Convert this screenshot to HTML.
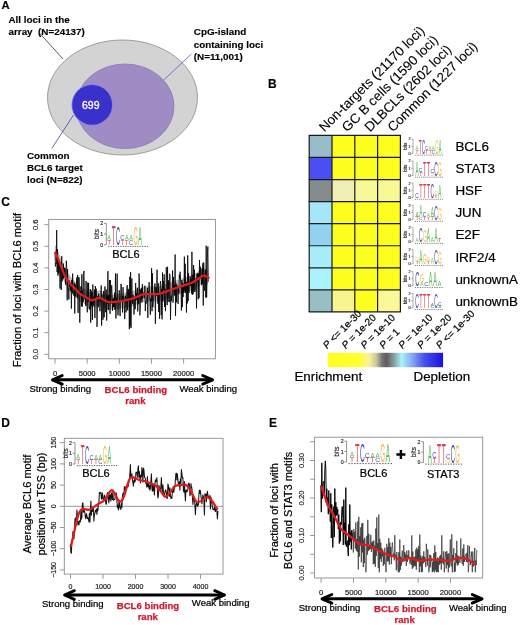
<!DOCTYPE html>
<html><head><meta charset="utf-8"><style>
body{margin:0;background:#fff;}
svg{display:block;filter:blur(0.3px);}
text{font-family:"Liberation Sans", sans-serif;}
.ax,.yl,.yl2,.ins,.rl,.en,.pl{stroke:#000;stroke-width:0.22px;}
.hd{stroke:#000;stroke-width:0.1px;}
.rd{stroke:#d01a30;stroke-width:0.25px;}
.bA,.lbl{stroke:#000;stroke-width:0.15px;}
.lbl{font-weight:bold;font-size:12px;}
.bA{font-weight:bold;font-size:9.85px;}
.w699{font-size:10.5px;fill:#fff;stroke:#fff;stroke-width:0.3px;}
.hd{font-size:13.4px;}
.rl{font-size:13.4px;}
.en{font-size:13.4px;}
.pl{font-size:10px;}
.yl{font-size:11.2px;}
.yl2{font-size:11.05px;}
.ins{font-size:11px;}
.ax{font-size:9.55px;}
.rd{font-size:9.65px;font-weight:bold;fill:#d01a30;}
</style></head>
<body><svg width="520" height="625" viewBox="0 0 520 625">
<text x="1.4" y="9.3" class="lbl" style="font-size:11.3px">A</text>
<text x="8.5" y="22.7" class="bA">All loci in the</text>
<text x="8.5" y="34.6" class="bA" xml:space="preserve">array  (N=24137)</text>
<line x1="39.5" y1="33" x2="63" y2="59" stroke="#333" stroke-width="0.8"/>
<ellipse cx="122.5" cy="97.5" rx="75" ry="57.5" fill="#d3d3d3" stroke="#8a8a8a" stroke-width="0.8"/>
<ellipse cx="125" cy="106.3" rx="49" ry="42.3" fill="#a08cc4" stroke="#8c7ab8" stroke-width="0.8"/>
<line x1="191.5" y1="54" x2="163.4" y2="80.3" stroke="#7766bb" stroke-width="0.9"/>
<circle cx="92.2" cy="104.8" r="20.7" fill="#8a80e6"/>
<circle cx="92.2" cy="104.8" r="19.9" fill="#3a30cc"/>
<text x="90.8" y="108.8" class="w699" text-anchor="middle">699</text>
<line x1="73.5" y1="115" x2="51.9" y2="148.3" stroke="#5a4fb5" stroke-width="0.9"/>
<text x="193.8" y="35.0" class="bA">CpG-island</text>
<text x="193.8" y="47.7" class="bA">containing loci</text>
<text x="193.8" y="59.6" class="bA">(N=11,001)</text>
<text x="26.9" y="158.8" class="bA">Common</text>
<text x="26.9" y="170.8" class="bA">BCL6 target</text>
<text x="26.9" y="182.5" class="bA">loci (N=822)</text>
<text x="268.1" y="87.9" class="lbl">B</text>
<rect x="309.20" y="135.40" width="22.80" height="22.07" fill="#98bcca"/>
<rect x="332.00" y="135.40" width="22.80" height="22.07" fill="#fefe1e"/>
<rect x="354.80" y="135.40" width="22.80" height="22.07" fill="#fefe1e"/>
<rect x="377.60" y="135.40" width="22.80" height="22.07" fill="#fefe1e"/>
<rect x="309.20" y="157.47" width="22.80" height="22.07" fill="#4a4ff4"/>
<rect x="332.00" y="157.47" width="22.80" height="22.07" fill="#fefe1e"/>
<rect x="354.80" y="157.47" width="22.80" height="22.07" fill="#fefe1e"/>
<rect x="377.60" y="157.47" width="22.80" height="22.07" fill="#fefe1e"/>
<rect x="309.20" y="179.54" width="22.80" height="22.07" fill="#838d8d"/>
<rect x="332.00" y="179.54" width="22.80" height="22.07" fill="#f0f0b4"/>
<rect x="354.80" y="179.54" width="22.80" height="22.07" fill="#f9f896"/>
<rect x="377.60" y="179.54" width="22.80" height="22.07" fill="#f9f896"/>
<rect x="309.20" y="201.61" width="22.80" height="22.07" fill="#a5e6fa"/>
<rect x="332.00" y="201.61" width="22.80" height="22.07" fill="#fefe1e"/>
<rect x="354.80" y="201.61" width="22.80" height="22.07" fill="#fefe1e"/>
<rect x="377.60" y="201.61" width="22.80" height="22.07" fill="#fefe1e"/>
<rect x="309.20" y="223.68" width="22.80" height="22.07" fill="#91d2f0"/>
<rect x="332.00" y="223.68" width="22.80" height="22.07" fill="#fefe1e"/>
<rect x="354.80" y="223.68" width="22.80" height="22.07" fill="#fefe1e"/>
<rect x="377.60" y="223.68" width="22.80" height="22.07" fill="#fefe1e"/>
<rect x="309.20" y="245.75" width="22.80" height="22.07" fill="#a8eefa"/>
<rect x="332.00" y="245.75" width="22.80" height="22.07" fill="#fefe1e"/>
<rect x="354.80" y="245.75" width="22.80" height="22.07" fill="#fefe1e"/>
<rect x="377.60" y="245.75" width="22.80" height="22.07" fill="#fefe1e"/>
<rect x="309.20" y="267.82" width="22.80" height="22.07" fill="#aaf2fb"/>
<rect x="332.00" y="267.82" width="22.80" height="22.07" fill="#fefe1e"/>
<rect x="354.80" y="267.82" width="22.80" height="22.07" fill="#fefe1e"/>
<rect x="377.60" y="267.82" width="22.80" height="22.07" fill="#fefe1e"/>
<rect x="309.20" y="289.89" width="22.80" height="22.07" fill="#98c0c4"/>
<rect x="332.00" y="289.89" width="22.80" height="22.07" fill="#f8f490"/>
<rect x="354.80" y="289.89" width="22.80" height="22.07" fill="#fefe20"/>
<rect x="377.60" y="289.89" width="22.80" height="22.07" fill="#faf898"/>
<line x1="309.20" y1="135.40" x2="309.20" y2="311.96" stroke="#1a1a1a" stroke-width="1.2"/>
<line x1="332.00" y1="135.40" x2="332.00" y2="311.96" stroke="#1a1a1a" stroke-width="1.2"/>
<line x1="354.80" y1="135.40" x2="354.80" y2="311.96" stroke="#1a1a1a" stroke-width="1.2"/>
<line x1="377.60" y1="135.40" x2="377.60" y2="311.96" stroke="#1a1a1a" stroke-width="1.2"/>
<line x1="400.40" y1="135.40" x2="400.40" y2="311.96" stroke="#1a1a1a" stroke-width="1.2"/>
<line x1="308.70" y1="135.40" x2="400.90" y2="135.40" stroke="#1a1a1a" stroke-width="1.2"/>
<line x1="308.70" y1="157.47" x2="400.90" y2="157.47" stroke="#1a1a1a" stroke-width="1.2"/>
<line x1="308.70" y1="179.54" x2="400.90" y2="179.54" stroke="#1a1a1a" stroke-width="1.2"/>
<line x1="308.70" y1="201.61" x2="400.90" y2="201.61" stroke="#1a1a1a" stroke-width="1.2"/>
<line x1="308.70" y1="223.68" x2="400.90" y2="223.68" stroke="#1a1a1a" stroke-width="1.2"/>
<line x1="308.70" y1="245.75" x2="400.90" y2="245.75" stroke="#1a1a1a" stroke-width="1.2"/>
<line x1="308.70" y1="267.82" x2="400.90" y2="267.82" stroke="#1a1a1a" stroke-width="1.2"/>
<line x1="308.70" y1="289.89" x2="400.90" y2="289.89" stroke="#1a1a1a" stroke-width="1.2"/>
<line x1="308.70" y1="311.96" x2="400.90" y2="311.96" stroke="#1a1a1a" stroke-width="1.2"/>
<text transform="translate(324.50,132.50) rotate(-45)" class="hd">Non-targets (21170 loci)</text>
<text transform="translate(347.30,132.50) rotate(-45)" class="hd">GC B cells (1590 loci)</text>
<text transform="translate(370.10,132.50) rotate(-45)" class="hd">DLBCLs (2602 loci)</text>
<text transform="translate(392.90,132.50) rotate(-45)" class="hd">Common (1227 loci)</text>
<path d="M411.40,139.00H413.00V153.50H411.40M411.40,146.25H413.00" stroke="#666" stroke-width="0.55" fill="none"/><text x="410.70" y="154.87" font-size="3.8" text-anchor="end" fill="#222" stroke="#222" stroke-width="0.15">0</text><text x="410.70" y="147.62" font-size="3.8" text-anchor="end" fill="#222" stroke="#222" stroke-width="0.15">1</text><text x="410.70" y="140.37" font-size="3.8" text-anchor="end" fill="#222" stroke="#222" stroke-width="0.15">2</text><text transform="translate(407.43,146.25) rotate(-90)" font-size="4.56" text-anchor="middle" fill="#222" stroke="#222" stroke-width="0.15">bits</text><text transform="translate(415.38,153.50) scale(0.481,0.520)" font-size="10" fill="#cc2233" fill-opacity="0.88">T</text><text transform="translate(415.48,149.91) scale(0.412,0.578)" font-size="10" fill="#3cb040" fill-opacity="0.88">A</text><text transform="translate(418.69,153.50) scale(0.481,2.000)" font-size="10" fill="#cc2233" fill-opacity="0.88">T</text><text transform="translate(421.91,153.50) scale(0.431,1.971)" font-size="10" fill="#2a2a9a" fill-opacity="0.88">C</text><text transform="translate(425.32,153.50) scale(0.481,0.485)" font-size="10" fill="#cc2233" fill-opacity="0.88">T</text><text transform="translate(425.22,150.15) scale(0.431,0.513)" font-size="10" fill="#2a2a9a" fill-opacity="0.88">C</text><text transform="translate(428.63,153.50) scale(0.481,0.485)" font-size="10" fill="#cc2233" fill-opacity="0.88">T</text><text transform="translate(428.73,150.15) scale(0.412,0.520)" font-size="10" fill="#3cb040" fill-opacity="0.88">A</text><text transform="translate(431.85,153.50) scale(0.431,0.479)" font-size="10" fill="#2a2a9a" fill-opacity="0.88">C</text><text transform="translate(432.04,150.15) scale(0.412,0.520)" font-size="10" fill="#3cb040" fill-opacity="0.88">A</text><text transform="translate(435.17,153.50) scale(0.415,1.937)" font-size="10" fill="#f0b030" fill-opacity="0.88">G</text><text transform="translate(438.67,153.50) scale(0.412,1.965)" font-size="10" fill="#3cb040" fill-opacity="0.88">A</text><path d="M414.80,155.10h0.99M416.62,155.10h0.99M418.44,155.10h0.99M420.27,155.10h0.99M422.09,155.10h0.99M423.91,155.10h0.99M425.73,155.10h0.99M427.55,155.10h0.99M429.37,155.10h0.99M431.20,155.10h0.99M433.02,155.10h0.99M434.84,155.10h0.99M436.66,155.10h0.99M438.48,155.10h0.99M440.31,155.10h0.99M442.13,155.10h0.99" stroke="#555" stroke-width="0.72"/>
<path d="M411.40,161.07H413.00V175.57H411.40M411.40,168.32H413.00" stroke="#666" stroke-width="0.55" fill="none"/><text x="410.70" y="176.94" font-size="3.8" text-anchor="end" fill="#222" stroke="#222" stroke-width="0.15">0</text><text x="410.70" y="169.69" font-size="3.8" text-anchor="end" fill="#222" stroke="#222" stroke-width="0.15">1</text><text x="410.70" y="162.44" font-size="3.8" text-anchor="end" fill="#222" stroke="#222" stroke-width="0.15">2</text><text transform="translate(407.43,168.32) rotate(-90)" font-size="4.56" text-anchor="middle" fill="#222" stroke="#222" stroke-width="0.15">bits</text><text transform="translate(415.52,175.57) scale(0.470,2.023)" font-size="10" fill="#3cb040" fill-opacity="0.88">A</text><text transform="translate(419.19,175.57) scale(0.549,0.520)" font-size="10" fill="#cc2233" fill-opacity="0.88">T</text><text transform="translate(419.08,171.98) scale(0.493,0.627)" font-size="10" fill="#2a2a9a" fill-opacity="0.88">C</text><text transform="translate(422.97,175.57) scale(0.549,2.080)" font-size="10" fill="#cc2233" fill-opacity="0.88">T</text><text transform="translate(426.76,175.57) scale(0.549,2.080)" font-size="10" fill="#cc2233" fill-opacity="0.88">T</text><text transform="translate(430.45,175.57) scale(0.474,0.342)" font-size="10" fill="#f0b030" fill-opacity="0.88">G</text><text transform="translate(430.44,173.18) scale(0.493,0.570)" font-size="10" fill="#2a2a9a" fill-opacity="0.88">C</text><text transform="translate(434.22,175.57) scale(0.493,1.937)" font-size="10" fill="#2a2a9a" fill-opacity="0.88">C</text><text transform="translate(438.02,175.57) scale(0.474,1.937)" font-size="10" fill="#f0b030" fill-opacity="0.88">G</text><path d="M414.80,177.17h1.14M416.88,177.17h1.14M418.96,177.17h1.14M421.05,177.17h1.14M423.13,177.17h1.14M425.21,177.17h1.14M427.29,177.17h1.14M429.38,177.17h1.14M431.46,177.17h1.14M433.54,177.17h1.14M435.62,177.17h1.14M437.70,177.17h1.14M439.79,177.17h1.14M441.87,177.17h1.14" stroke="#555" stroke-width="0.72"/>
<path d="M411.40,183.14H413.00V197.64H411.40M411.40,190.39H413.00" stroke="#666" stroke-width="0.55" fill="none"/><text x="410.70" y="199.01" font-size="3.8" text-anchor="end" fill="#222" stroke="#222" stroke-width="0.15">0</text><text x="410.70" y="191.76" font-size="3.8" text-anchor="end" fill="#222" stroke="#222" stroke-width="0.15">1</text><text x="410.70" y="184.51" font-size="3.8" text-anchor="end" fill="#222" stroke="#222" stroke-width="0.15">2</text><text transform="translate(407.43,190.39) rotate(-90)" font-size="4.56" text-anchor="middle" fill="#222" stroke="#222" stroke-width="0.15">bits</text><text transform="translate(415.29,197.64) scale(0.493,0.684)" font-size="10" fill="#2a2a9a" fill-opacity="0.88">C</text><text transform="translate(419.19,197.64) scale(0.549,2.080)" font-size="10" fill="#cc2233" fill-opacity="0.88">T</text><text transform="translate(422.97,197.64) scale(0.549,2.080)" font-size="10" fill="#cc2233" fill-opacity="0.88">T</text><text transform="translate(426.76,197.64) scale(0.549,2.080)" font-size="10" fill="#cc2233" fill-opacity="0.88">T</text><text transform="translate(430.44,197.64) scale(0.493,1.937)" font-size="10" fill="#2a2a9a" fill-opacity="0.88">C</text><text transform="translate(434.33,197.64) scale(0.549,0.347)" font-size="10" fill="#cc2233" fill-opacity="0.88">T</text><text transform="translate(434.23,195.25) scale(0.474,0.456)" font-size="10" fill="#f0b030" fill-opacity="0.88">G</text><text transform="translate(438.23,197.64) scale(0.470,1.849)" font-size="10" fill="#3cb040" fill-opacity="0.88">A</text><path d="M414.80,199.24h1.14M416.88,199.24h1.14M418.96,199.24h1.14M421.05,199.24h1.14M423.13,199.24h1.14M425.21,199.24h1.14M427.29,199.24h1.14M429.38,199.24h1.14M431.46,199.24h1.14M433.54,199.24h1.14M435.62,199.24h1.14M437.70,199.24h1.14M439.79,199.24h1.14M441.87,199.24h1.14" stroke="#555" stroke-width="0.72"/>
<path d="M411.40,205.21H413.00V219.71H411.40M411.40,212.46H413.00" stroke="#666" stroke-width="0.55" fill="none"/><text x="410.70" y="221.08" font-size="3.8" text-anchor="end" fill="#222" stroke="#222" stroke-width="0.15">0</text><text x="410.70" y="213.83" font-size="3.8" text-anchor="end" fill="#222" stroke="#222" stroke-width="0.15">1</text><text x="410.70" y="206.58" font-size="3.8" text-anchor="end" fill="#222" stroke="#222" stroke-width="0.15">2</text><text transform="translate(407.43,212.46) rotate(-90)" font-size="4.56" text-anchor="middle" fill="#222" stroke="#222" stroke-width="0.15">bits</text><text transform="translate(415.40,219.71) scale(0.549,0.462)" font-size="10" fill="#cc2233" fill-opacity="0.88">T</text><text transform="translate(415.52,216.52) scale(0.470,0.693)" font-size="10" fill="#3cb040" fill-opacity="0.88">A</text><text transform="translate(419.08,219.71) scale(0.493,0.342)" font-size="10" fill="#2a2a9a" fill-opacity="0.88">C</text><text transform="translate(419.30,217.32) scale(0.470,1.734)" font-size="10" fill="#3cb040" fill-opacity="0.88">A</text><text transform="translate(422.97,219.71) scale(0.549,0.347)" font-size="10" fill="#cc2233" fill-opacity="0.88">T</text><text transform="translate(422.87,217.32) scale(0.493,0.684)" font-size="10" fill="#2a2a9a" fill-opacity="0.88">C</text><text transform="translate(426.76,219.71) scale(0.549,0.347)" font-size="10" fill="#cc2233" fill-opacity="0.88">T</text><text transform="translate(426.87,217.32) scale(0.470,0.578)" font-size="10" fill="#3cb040" fill-opacity="0.88">A</text><text transform="translate(430.55,219.71) scale(0.549,0.462)" font-size="10" fill="#cc2233" fill-opacity="0.88">T</text><text transform="translate(430.66,216.52) scale(0.470,1.387)" font-size="10" fill="#3cb040" fill-opacity="0.88">A</text><text transform="translate(434.22,219.71) scale(0.493,1.937)" font-size="10" fill="#2a2a9a" fill-opacity="0.88">C</text><text transform="translate(438.02,219.71) scale(0.474,1.709)" font-size="10" fill="#f0b030" fill-opacity="0.88">G</text><path d="M414.80,221.31h1.14M416.88,221.31h1.14M418.96,221.31h1.14M421.05,221.31h1.14M423.13,221.31h1.14M425.21,221.31h1.14M427.29,221.31h1.14M429.38,221.31h1.14M431.46,221.31h1.14M433.54,221.31h1.14M435.62,221.31h1.14M437.70,221.31h1.14M439.79,221.31h1.14M441.87,221.31h1.14" stroke="#555" stroke-width="0.72"/>
<path d="M411.40,227.28H413.00V241.78H411.40M411.40,234.53H413.00" stroke="#666" stroke-width="0.55" fill="none"/><text x="410.70" y="243.15" font-size="3.8" text-anchor="end" fill="#222" stroke="#222" stroke-width="0.15">0</text><text x="410.70" y="235.90" font-size="3.8" text-anchor="end" fill="#222" stroke="#222" stroke-width="0.15">1</text><text x="410.70" y="228.65" font-size="3.8" text-anchor="end" fill="#222" stroke="#222" stroke-width="0.15">2</text><text transform="translate(407.43,234.53) rotate(-90)" font-size="4.56" text-anchor="middle" fill="#222" stroke="#222" stroke-width="0.15">bits</text><text transform="translate(415.52,241.78) scale(0.470,0.578)" font-size="10" fill="#3cb040" fill-opacity="0.88">A</text><text transform="translate(419.08,241.78) scale(0.493,1.937)" font-size="10" fill="#2a2a9a" fill-opacity="0.88">C</text><text transform="translate(422.88,241.78) scale(0.474,1.709)" font-size="10" fill="#f0b030" fill-opacity="0.88">G</text><text transform="translate(426.87,241.78) scale(0.470,2.080)" font-size="10" fill="#3cb040" fill-opacity="0.88">A</text><text transform="translate(430.66,241.78) scale(0.470,0.693)" font-size="10" fill="#3cb040" fill-opacity="0.88">A</text><text transform="translate(434.45,241.78) scale(0.470,1.965)" font-size="10" fill="#3cb040" fill-opacity="0.88">A</text><text transform="translate(438.12,241.78) scale(0.549,0.578)" font-size="10" fill="#cc2233" fill-opacity="0.88">T</text><path d="M414.80,243.38h1.14M416.88,243.38h1.14M418.96,243.38h1.14M421.05,243.38h1.14M423.13,243.38h1.14M425.21,243.38h1.14M427.29,243.38h1.14M429.38,243.38h1.14M431.46,243.38h1.14M433.54,243.38h1.14M435.62,243.38h1.14M437.70,243.38h1.14M439.79,243.38h1.14M441.87,243.38h1.14" stroke="#555" stroke-width="0.72"/>
<path d="M411.40,249.35H413.00V263.85H411.40M411.40,256.60H413.00" stroke="#666" stroke-width="0.55" fill="none"/><text x="410.70" y="265.22" font-size="3.8" text-anchor="end" fill="#222" stroke="#222" stroke-width="0.15">0</text><text x="410.70" y="257.97" font-size="3.8" text-anchor="end" fill="#222" stroke="#222" stroke-width="0.15">1</text><text x="410.70" y="250.72" font-size="3.8" text-anchor="end" fill="#222" stroke="#222" stroke-width="0.15">2</text><text transform="translate(407.43,256.60) rotate(-90)" font-size="4.56" text-anchor="middle" fill="#222" stroke="#222" stroke-width="0.15">bits</text><text transform="translate(415.40,263.85) scale(0.549,0.347)" font-size="10" fill="#cc2233" fill-opacity="0.88">T</text><text transform="translate(415.30,261.46) scale(0.474,0.570)" font-size="10" fill="#f0b030" fill-opacity="0.88">G</text><text transform="translate(419.30,263.85) scale(0.470,1.965)" font-size="10" fill="#3cb040" fill-opacity="0.88">A</text><text transform="translate(422.88,263.85) scale(0.474,1.481)" font-size="10" fill="#f0b030" fill-opacity="0.88">G</text><text transform="translate(426.76,263.85) scale(0.549,0.347)" font-size="10" fill="#cc2233" fill-opacity="0.88">T</text><text transform="translate(426.66,261.46) scale(0.474,0.570)" font-size="10" fill="#f0b030" fill-opacity="0.88">G</text><text transform="translate(430.66,263.85) scale(0.470,0.925)" font-size="10" fill="#3cb040" fill-opacity="0.88">A</text><text transform="translate(434.22,263.85) scale(0.493,1.937)" font-size="10" fill="#2a2a9a" fill-opacity="0.88">C</text><text transform="translate(438.02,263.85) scale(0.474,1.709)" font-size="10" fill="#f0b030" fill-opacity="0.88">G</text><path d="M414.80,265.45h1.14M416.88,265.45h1.14M418.96,265.45h1.14M421.05,265.45h1.14M423.13,265.45h1.14M425.21,265.45h1.14M427.29,265.45h1.14M429.38,265.45h1.14M431.46,265.45h1.14M433.54,265.45h1.14M435.62,265.45h1.14M437.70,265.45h1.14M439.79,265.45h1.14M441.87,265.45h1.14" stroke="#555" stroke-width="0.72"/>
<path d="M411.40,271.42H413.00V285.92H411.40M411.40,278.67H413.00" stroke="#666" stroke-width="0.55" fill="none"/><text x="410.70" y="287.29" font-size="3.8" text-anchor="end" fill="#222" stroke="#222" stroke-width="0.15">0</text><text x="410.70" y="280.04" font-size="3.8" text-anchor="end" fill="#222" stroke="#222" stroke-width="0.15">1</text><text x="410.70" y="272.79" font-size="3.8" text-anchor="end" fill="#222" stroke="#222" stroke-width="0.15">2</text><text transform="translate(407.43,278.67) rotate(-90)" font-size="4.56" text-anchor="middle" fill="#222" stroke="#222" stroke-width="0.15">bits</text><text transform="translate(415.31,285.92) scale(0.575,2.051)" font-size="10" fill="#2a2a9a" fill-opacity="0.88">C</text><text transform="translate(419.99,285.92) scale(0.549,0.578)" font-size="10" fill="#3cb040" fill-opacity="0.88">A</text><text transform="translate(419.74,281.93) scale(0.553,1.025)" font-size="10" fill="#f0b030" fill-opacity="0.88">G</text><text transform="translate(424.14,285.92) scale(0.575,0.570)" font-size="10" fill="#2a2a9a" fill-opacity="0.88">C</text><text transform="translate(428.82,285.92) scale(0.549,1.965)" font-size="10" fill="#3cb040" fill-opacity="0.88">A</text><text transform="translate(433.24,285.92) scale(0.549,1.965)" font-size="10" fill="#3cb040" fill-opacity="0.88">A</text><text transform="translate(437.65,285.92) scale(0.549,0.809)" font-size="10" fill="#3cb040" fill-opacity="0.88">A</text><path d="M414.80,287.52h1.32M417.23,287.52h1.32M419.66,287.52h1.32M422.09,287.52h1.32M424.52,287.52h1.32M426.95,287.52h1.32M429.38,287.52h1.32M431.80,287.52h1.32M434.23,287.52h1.32M436.66,287.52h1.32M439.09,287.52h1.32M441.52,287.52h1.32" stroke="#555" stroke-width="0.72"/>
<path d="M411.40,293.49H413.00V307.99H411.40M411.40,300.74H413.00" stroke="#666" stroke-width="0.55" fill="none"/><text x="410.70" y="309.36" font-size="3.8" text-anchor="end" fill="#222" stroke="#222" stroke-width="0.15">0</text><text x="410.70" y="302.11" font-size="3.8" text-anchor="end" fill="#222" stroke="#222" stroke-width="0.15">1</text><text x="410.70" y="294.86" font-size="3.8" text-anchor="end" fill="#222" stroke="#222" stroke-width="0.15">2</text><text transform="translate(407.43,300.74) rotate(-90)" font-size="4.56" text-anchor="middle" fill="#222" stroke="#222" stroke-width="0.15">bits</text><text transform="translate(415.29,307.99) scale(0.493,2.051)" font-size="10" fill="#2a2a9a" fill-opacity="0.88">C</text><text transform="translate(419.19,307.99) scale(0.549,2.080)" font-size="10" fill="#cc2233" fill-opacity="0.88">T</text><text transform="translate(422.97,307.99) scale(0.549,2.080)" font-size="10" fill="#cc2233" fill-opacity="0.88">T</text><text transform="translate(426.76,307.99) scale(0.549,2.080)" font-size="10" fill="#cc2233" fill-opacity="0.88">T</text><text transform="translate(430.44,307.99) scale(0.493,0.342)" font-size="10" fill="#2a2a9a" fill-opacity="0.88">C</text><text transform="translate(430.66,305.60) scale(0.470,0.347)" font-size="10" fill="#3cb040" fill-opacity="0.88">A</text><text transform="translate(434.22,307.99) scale(0.493,1.937)" font-size="10" fill="#2a2a9a" fill-opacity="0.88">C</text><text transform="translate(438.23,307.99) scale(0.470,0.347)" font-size="10" fill="#3cb040" fill-opacity="0.88">A</text><text transform="translate(438.01,305.60) scale(0.493,0.570)" font-size="10" fill="#2a2a9a" fill-opacity="0.88">C</text><path d="M414.80,309.59h1.14M416.88,309.59h1.14M418.96,309.59h1.14M421.05,309.59h1.14M423.13,309.59h1.14M425.21,309.59h1.14M427.29,309.59h1.14M429.38,309.59h1.14M431.46,309.59h1.14M433.54,309.59h1.14M435.62,309.59h1.14M437.70,309.59h1.14M439.79,309.59h1.14M441.87,309.59h1.14" stroke="#555" stroke-width="0.72"/>
<text x="455.4" y="151.20" class="rl">BCL6</text>
<text x="455.4" y="173.27" class="rl">STAT3</text>
<text x="455.4" y="195.34" class="rl">HSF</text>
<text x="455.4" y="217.41" class="rl">JUN</text>
<text x="455.4" y="239.48" class="rl">E2F</text>
<text x="455.4" y="261.55" class="rl">IRF2/4</text>
<text x="455.4" y="283.62" class="rl">unknownA</text>
<text x="455.4" y="305.69" class="rl">unknownB</text>
<defs><linearGradient id="cb" x1="0" x2="1" y1="0" y2="0"><stop offset="0" stop-color="#ffff22"/><stop offset="0.27" stop-color="#ffff30"/><stop offset="0.36" stop-color="#f6f2a0"/><stop offset="0.42" stop-color="#c8c89a"/><stop offset="0.47" stop-color="#747474"/><stop offset="0.51" stop-color="#5c5c5c"/><stop offset="0.57" stop-color="#889a9a"/><stop offset="0.64" stop-color="#a8f4fa"/><stop offset="0.74" stop-color="#7f9ff2"/><stop offset="0.84" stop-color="#4450ee"/><stop offset="1" stop-color="#1a10e0"/></linearGradient></defs>
<rect x="327.9" y="352.8" width="115.2" height="14.4" fill="url(#cb)"/>
<text x="294.4" y="380.9" class="en">Enrichment</text>
<text x="413.5" y="380.9" class="en">Depletion</text>
<text transform="translate(327.00,349.30) rotate(-45)" class="pl"><tspan font-style="italic">P</tspan> &lt;= 1e-30</text>
<text transform="translate(345.85,349.30) rotate(-45)" class="pl"><tspan font-style="italic">P</tspan> = 1e-20</text>
<text transform="translate(364.70,349.30) rotate(-45)" class="pl"><tspan font-style="italic">P</tspan> = 1e-10</text>
<text transform="translate(383.55,349.30) rotate(-45)" class="pl"><tspan font-style="italic">P</tspan> = 1</text>
<text transform="translate(402.40,349.30) rotate(-45)" class="pl"><tspan font-style="italic">P</tspan> = 1e-10</text>
<text transform="translate(421.25,349.30) rotate(-45)" class="pl"><tspan font-style="italic">P</tspan> = 1e-20</text>
<text transform="translate(440.10,349.30) rotate(-45)" class="pl"><tspan font-style="italic">P</tspan> &lt;= 1e-30</text>
<text x="1.2" y="205.6" class="lbl">C</text>
<rect x="48.75" y="219.40" width="166.65" height="139.40" fill="none" stroke="#8c8c8c" stroke-width="0.9"/><path d="M44.25,354.30H48.75M44.25,332.70H48.75M44.25,311.10H48.75M44.25,289.50H48.75M44.25,267.90H48.75M44.25,246.30H48.75M44.25,224.70H48.75M55.00,358.80V363.60M87.15,358.80V363.60M119.30,358.80V363.60M151.45,358.80V363.60M183.60,358.80V363.60" stroke="#8c8c8c" stroke-width="0.9"/><text transform="translate(38.00,354.30) rotate(-90)" font-size="7.6" text-anchor="middle" fill="#222" stroke="#222" stroke-width="0.2">0.0</text><text transform="translate(38.00,332.70) rotate(-90)" font-size="7.6" text-anchor="middle" fill="#222" stroke="#222" stroke-width="0.2">0.1</text><text transform="translate(38.00,311.10) rotate(-90)" font-size="7.6" text-anchor="middle" fill="#222" stroke="#222" stroke-width="0.2">0.2</text><text transform="translate(38.00,289.50) rotate(-90)" font-size="7.6" text-anchor="middle" fill="#222" stroke="#222" stroke-width="0.2">0.3</text><text transform="translate(38.00,267.90) rotate(-90)" font-size="7.6" text-anchor="middle" fill="#222" stroke="#222" stroke-width="0.2">0.4</text><text transform="translate(38.00,246.30) rotate(-90)" font-size="7.6" text-anchor="middle" fill="#222" stroke="#222" stroke-width="0.2">0.5</text><text transform="translate(38.00,224.70) rotate(-90)" font-size="7.6" text-anchor="middle" fill="#222" stroke="#222" stroke-width="0.2">0.6</text><text x="55.00" y="375.80" font-size="7.6" text-anchor="middle" fill="#222" stroke="#222" stroke-width="0.2">0</text><text x="87.15" y="375.80" font-size="7.6" text-anchor="middle" fill="#222" stroke="#222" stroke-width="0.2">5000</text><text x="119.30" y="375.80" font-size="7.6" text-anchor="middle" fill="#222" stroke="#222" stroke-width="0.2">10000</text><text x="151.45" y="375.80" font-size="7.6" text-anchor="middle" fill="#222" stroke="#222" stroke-width="0.2">15000</text><text x="183.60" y="375.80" font-size="7.6" text-anchor="middle" fill="#222" stroke="#222" stroke-width="0.2">20000</text>
<text transform="translate(21.3,290.1) rotate(-90)" class="yl" text-anchor="middle">Fraction of loci with BCL6 motif</text>
<polygon points="55.00,259.75 56.00,261.57 57.00,263.84 58.00,266.26 59.00,268.71 60.00,271.21 61.00,273.75 62.00,276.32 63.00,278.89 64.00,281.34 65.00,283.53 66.00,285.34 67.00,286.87 68.00,288.29 69.00,289.67 70.00,290.98 71.00,292.18 72.00,293.26 73.00,294.29 74.00,295.30 75.00,296.32 76.00,297.33 77.00,298.34 78.00,299.34 79.00,300.31 80.00,301.18 81.00,301.91 82.00,302.55 83.00,303.15 84.00,303.74 85.00,304.33 86.00,304.92 87.00,305.52 88.00,306.11 89.00,306.69 90.00,307.25 91.00,307.67 92.00,307.83 93.00,307.67 94.00,307.34 95.00,306.94 96.00,306.53 97.00,306.12 98.00,305.76 99.00,305.53 100.00,305.57 101.00,305.90 102.00,306.40 103.00,306.95 104.00,307.51 105.00,308.07 106.00,308.62 107.00,309.14 108.00,309.56 109.00,309.80 110.00,309.84 111.00,309.78 112.00,309.69 113.00,309.60 114.00,309.50 115.00,309.41 116.00,309.32 117.00,309.22 118.00,309.12 119.00,309.02 120.00,308.88 121.00,308.71 122.00,308.51 123.00,308.29 124.00,308.08 125.00,307.86 126.00,307.64 127.00,307.43 128.00,307.21 129.00,307.00 130.00,306.78 131.00,306.56 132.00,306.32 133.00,306.03 134.00,305.67 135.00,305.25 136.00,304.82 137.00,304.39 138.00,303.95 139.00,303.52 140.00,303.08 141.00,302.65 142.00,302.24 143.00,301.90 144.00,301.70 145.00,301.62 146.00,301.60 147.00,301.60 148.00,301.60 149.00,301.60 150.00,301.60 151.00,301.60 152.00,301.60 153.00,301.60 154.00,301.60 155.00,301.60 156.00,301.60 157.00,301.59 158.00,301.55 159.00,301.44 160.00,301.22 161.00,300.91 162.00,300.56 163.00,300.20 164.00,299.84 165.00,299.49 166.00,299.13 167.00,298.77 168.00,298.41 169.00,298.05 170.00,297.70 171.00,297.34 172.00,296.98 173.00,296.62 174.00,296.27 175.00,295.92 176.00,295.58 177.00,295.24 178.00,294.90 179.00,294.56 180.00,294.22 181.00,293.89 182.00,293.55 183.00,293.21 184.00,292.87 185.00,292.53 186.00,292.20 187.00,291.86 188.00,291.52 189.00,291.18 190.00,290.84 191.00,290.49 192.00,290.10 193.00,289.63 194.00,289.05 195.00,288.42 196.00,287.77 197.00,287.11 198.00,286.46 199.00,285.80 200.00,285.15 201.00,284.49 202.00,283.87 203.00,283.38 204.00,283.20 205.00,283.42 206.00,283.91 207.00,284.50 208.00,285.08 208.00,269.96 207.00,269.38 206.00,268.79 205.00,268.30 204.00,268.08 203.00,268.26 202.00,268.75 201.00,269.37 200.00,270.03 199.00,270.68 198.00,271.34 197.00,271.99 196.00,272.65 195.00,273.30 194.00,273.93 193.00,274.51 192.00,274.98 191.00,275.37 190.00,275.72 189.00,276.06 188.00,276.40 187.00,276.74 186.00,277.08 185.00,277.41 184.00,277.75 183.00,278.09 182.00,278.43 181.00,278.77 180.00,279.10 179.00,279.44 178.00,279.78 177.00,280.12 176.00,280.46 175.00,280.80 174.00,281.15 173.00,281.50 172.00,281.86 171.00,282.22 170.00,282.58 169.00,282.93 168.00,283.29 167.00,283.65 166.00,284.01 165.00,284.37 164.00,284.72 163.00,285.08 162.00,285.44 161.00,285.79 160.00,286.10 159.00,286.32 158.00,286.43 157.00,286.47 156.00,286.48 155.00,286.48 154.00,286.48 153.00,286.48 152.00,286.48 151.00,286.48 150.00,286.48 149.00,286.48 148.00,286.48 147.00,286.48 146.00,286.48 145.00,286.50 144.00,286.58 143.00,286.78 142.00,287.12 141.00,287.53 140.00,287.96 139.00,288.40 138.00,288.83 137.00,289.27 136.00,289.70 135.00,290.13 134.00,290.55 133.00,290.91 132.00,291.20 131.00,291.44 130.00,291.66 129.00,291.88 128.00,292.09 127.00,292.31 126.00,292.52 125.00,292.74 124.00,292.96 123.00,293.17 122.00,293.39 121.00,293.59 120.00,293.76 119.00,293.90 118.00,294.00 117.00,294.10 116.00,294.20 115.00,294.29 114.00,294.38 113.00,294.48 112.00,294.57 111.00,294.66 110.00,294.72 109.00,294.68 108.00,294.44 107.00,294.02 106.00,293.50 105.00,292.95 104.00,292.39 103.00,291.83 102.00,291.28 101.00,290.78 100.00,290.45 99.00,290.41 98.00,290.64 97.00,291.00 96.00,291.41 95.00,291.82 94.00,292.22 93.00,292.55 92.00,292.71 91.00,292.55 90.00,292.13 89.00,291.57 88.00,290.99 87.00,290.40 86.00,289.80 85.00,289.21 84.00,288.62 83.00,288.03 82.00,287.43 81.00,286.79 80.00,286.06 79.00,285.19 78.00,284.22 77.00,283.22 76.00,282.21 75.00,281.20 74.00,280.18 73.00,279.17 72.00,278.14 71.00,277.06 70.00,275.86 69.00,274.55 68.00,273.17 67.00,271.75 66.00,270.22 65.00,268.41 64.00,266.22 63.00,263.77 62.00,261.20 61.00,258.63 60.00,256.09 59.00,253.59 58.00,251.14 57.00,248.72 56.00,246.45 55.00,244.63" fill="#666" fill-opacity="0.45"/>
<polyline points="55.00,252.10 55.42,266.43 55.84,263.29 56.26,263.95 56.68,230.10 57.10,272.14 57.52,249.13 57.94,275.66 58.36,258.13 58.78,273.56 59.20,261.36 59.62,269.12 60.04,288.51 60.46,266.72 60.88,277.64 61.30,289.97 61.72,256.17 62.14,281.43 62.56,269.43 62.98,279.22 63.40,263.52 63.82,277.82 64.24,267.68 64.66,276.75 65.08,268.02 65.50,284.62 65.92,273.85 66.34,260.76 66.76,268.70 67.18,300.26 67.60,269.14 68.02,288.87 68.44,288.42 68.86,299.43 69.28,280.56 69.70,286.25 70.12,286.05 70.54,291.00 70.96,283.31 71.38,308.62 71.80,280.01 72.22,293.36 72.64,273.60 73.06,288.46 73.48,294.91 73.90,295.58 74.32,282.83 74.74,313.51 75.16,284.26 75.58,296.49 76.00,294.70 76.42,284.32 76.84,277.50 77.26,298.10 77.68,274.98 78.10,312.90 78.52,277.84 78.94,277.09 79.36,278.39 79.78,322.66 80.20,291.29 80.62,294.06 81.04,286.30 81.46,306.43 81.88,274.12 82.30,306.60 82.72,290.44 83.14,301.81 83.56,275.35 83.98,270.95 84.40,292.19 84.82,299.10 85.24,296.26 85.66,305.86 86.08,280.96 86.50,300.65 86.92,305.85 87.34,312.35 87.76,282.65 88.18,301.71 88.60,282.88 89.02,308.56 89.44,307.07 89.86,309.78 90.28,288.98 90.70,322.71 91.12,290.31 91.54,306.13 91.96,292.28 92.38,319.84 92.80,284.45 93.22,305.74 93.64,296.80 94.06,303.30 94.48,289.55 94.90,317.99 95.32,285.99 95.74,300.08 96.16,288.58 96.58,295.05 97.00,326.89 97.42,306.80 97.84,295.82 98.26,307.31 98.68,293.63 99.10,299.86 99.52,297.31 99.94,311.23 100.36,297.77 100.78,301.62 101.20,285.45 101.62,325.56 102.04,294.27 102.46,305.74 102.88,319.77 103.30,317.00 103.72,290.96 104.14,317.30 104.56,299.47 104.98,286.53 105.40,312.21 105.82,310.73 106.24,289.58 106.66,320.50 107.08,295.61 107.50,304.03 107.92,271.18 108.34,310.07 108.76,295.12 109.18,303.69 109.60,279.98 110.02,313.80 110.44,280.24 110.86,303.93 111.28,294.05 111.70,285.13 112.12,294.35 112.54,310.61 112.96,298.61 113.38,307.05 113.80,297.87 114.22,306.87 114.64,292.76 115.06,309.91 115.48,273.48 115.90,318.47 116.32,297.66 116.74,303.09 117.16,273.58 117.58,305.87 118.00,315.25 118.42,307.37 118.84,298.47 119.26,290.33 119.68,306.61 120.10,316.11 120.52,298.52 120.94,283.87 121.36,285.84 121.78,301.80 122.20,295.69 122.62,312.45 123.04,287.18 123.46,301.94 123.88,296.32 124.30,304.46 124.72,319.10 125.14,304.01 125.56,295.55 125.98,312.36 126.40,308.71 126.82,288.77 127.24,285.12 127.66,310.40 128.08,288.72 128.50,300.30 128.92,289.90 129.34,329.17 129.76,276.76 130.18,326.25 130.60,272.16 131.02,328.05 131.44,291.06 131.86,278.43 132.28,298.08 132.70,303.85 133.12,294.81 133.54,299.36 133.96,314.54 134.38,308.27 134.80,296.62 135.22,309.16 135.64,283.03 136.06,300.08 136.48,293.44 136.90,300.16 137.32,287.74 137.74,311.42 138.16,294.08 138.58,304.17 139.00,273.51 139.42,278.83 139.84,315.36 140.26,310.18 140.68,289.47 141.10,299.80 141.52,288.02 141.94,302.51 142.36,284.15 142.78,298.19 143.20,292.96 143.62,292.67 144.04,294.50 144.46,298.15 144.88,285.63 145.30,311.12 145.72,301.05 146.14,303.63 146.56,299.17 146.98,294.83 147.40,287.85 147.82,317.95 148.24,291.17 148.66,294.19 149.08,282.16 149.50,290.17 149.92,301.41 150.34,314.77 150.76,297.98 151.18,301.45 151.60,268.20 152.02,311.25 152.44,273.27 152.86,307.21 153.28,301.47 153.70,297.42 154.12,292.30 154.54,289.44 154.96,283.51 155.38,323.84 155.80,287.19 156.22,296.00 156.64,286.25 157.06,269.69 157.48,290.77 157.90,303.79 158.32,283.25 158.74,312.03 159.16,292.92 159.58,318.83 160.00,291.03 160.42,281.16 160.84,284.27 161.26,315.18 161.68,288.86 162.10,319.34 162.52,272.53 162.94,301.69 163.36,280.99 163.78,289.56 164.20,274.28 164.62,306.98 165.04,288.71 165.46,311.19 165.88,297.06 166.30,267.30 166.72,280.76 167.14,305.09 167.56,266.78 167.98,301.56 168.40,280.32 168.82,293.31 169.24,302.18 169.66,273.76 170.08,277.35 170.50,319.77 170.92,296.28 171.34,301.21 171.76,293.81 172.18,290.82 172.60,270.49 173.02,302.67 173.44,276.96 173.86,290.67 174.28,285.14 174.70,295.41 175.12,254.47 175.54,315.90 175.96,283.26 176.38,302.30 176.80,284.83 177.22,287.69 177.64,286.70 178.06,303.93 178.48,286.95 178.90,293.19 179.32,274.54 179.74,278.89 180.16,271.71 180.58,281.30 181.00,285.19 181.42,310.52 181.84,280.03 182.26,307.16 182.68,282.98 183.10,297.05 183.52,287.12 183.94,292.97 184.36,256.64 184.78,290.78 185.20,263.76 185.62,292.73 186.04,281.79 186.46,312.49 186.88,282.00 187.30,303.43 187.72,255.41 188.14,301.06 188.56,272.99 188.98,293.01 189.40,281.74 189.82,283.92 190.24,276.45 190.66,286.11 191.08,279.26 191.50,293.38 191.92,251.77 192.34,294.98 192.76,274.73 193.18,294.03 193.60,265.01 194.02,291.50 194.44,269.69 194.86,291.91 195.28,289.19 195.70,286.75 196.12,278.16 196.54,308.40 196.96,273.88 197.38,281.96 197.80,273.24 198.22,299.32 198.64,273.39 199.06,298.01 199.48,260.03 199.90,279.08 200.32,266.69 200.74,277.22 201.16,276.54 201.58,285.28 202.00,268.36 202.42,284.23 202.84,263.29 203.26,305.54 203.68,262.49 204.10,277.46 204.52,290.68 204.94,276.03 205.36,270.06 205.78,297.55 206.20,245.66 206.62,297.39 207.04,279.48 207.46,252.83 207.88,246.65 208.30,281.77" fill="none" stroke="#000" stroke-width="0.9" stroke-opacity="0.9" stroke-linejoin="round"/>
<polyline points="54.70,251.79 55.48,252.98 56.26,254.56 57.03,256.36 57.81,258.24 58.59,260.14 59.37,262.07 60.15,264.02 60.92,266.00 61.70,267.99 62.48,270.00 63.26,271.97 64.03,273.87 64.81,275.59 65.59,277.08 66.37,278.36 67.15,279.52 67.92,280.63 68.70,281.71 69.48,282.75 70.26,283.74 71.04,284.66 71.81,285.50 72.59,286.31 73.37,287.11 74.15,287.89 74.93,288.68 75.70,289.47 76.48,290.26 77.26,291.04 78.04,291.82 78.81,292.58 79.59,293.28 80.37,293.90 81.15,294.45 81.93,294.95 82.70,295.42 83.48,295.88 84.26,296.34 85.04,296.80 85.82,297.26 86.59,297.72 87.37,298.17 88.15,298.63 88.93,299.09 89.71,299.53 90.48,299.92 91.26,300.18 92.04,300.26 92.82,300.16 93.59,299.93 94.37,299.63 95.15,299.32 95.93,299.00 96.71,298.68 97.48,298.38 98.26,298.12 99.04,297.97 99.82,297.98 100.60,298.18 101.37,298.52 102.15,298.92 102.93,299.35 103.71,299.78 104.48,300.22 105.26,300.65 106.04,301.08 106.82,301.49 107.60,301.85 108.37,302.12 109.15,302.25 109.93,302.28 110.71,302.24 111.49,302.18 112.26,302.11 113.04,302.03 113.82,301.96 114.60,301.89 115.38,301.81 116.15,301.74 116.93,301.67 117.71,301.59 118.49,301.51 119.26,301.42 120.04,301.31 120.82,301.18 121.60,301.03 122.38,300.87 123.15,300.70 123.93,300.53 124.71,300.36 125.49,300.19 126.27,300.03 127.04,299.86 127.82,299.69 128.60,299.52 129.38,299.35 130.16,299.19 130.93,299.01 131.71,298.83 132.49,298.62 133.27,298.38 134.04,298.09 134.82,297.77 135.60,297.44 136.38,297.10 137.16,296.76 137.93,296.42 138.71,296.08 139.49,295.74 140.27,295.40 141.05,295.07 141.82,294.75 142.60,294.46 143.38,294.25 144.16,294.12 144.94,294.06 145.71,294.04 146.49,294.04 147.27,294.04 148.05,294.04 148.82,294.04 149.60,294.04 150.38,294.04 151.16,294.04 151.94,294.04 152.71,294.04 153.49,294.04 154.27,294.04 155.05,294.04 155.83,294.04 156.60,294.03 157.38,294.02 158.16,293.98 158.94,293.89 159.72,293.73 160.49,293.51 161.27,293.25 162.05,292.98 162.83,292.70 163.60,292.42 164.38,292.15 165.16,291.87 165.94,291.59 166.72,291.31 167.49,291.03 168.27,290.76 169.05,290.48 169.83,290.20 170.61,289.92 171.38,289.64 172.16,289.36 172.94,289.09 173.72,288.81 174.49,288.54 175.27,288.27 176.05,288.00 176.83,287.74 177.61,287.47 178.38,287.21 179.16,286.95 179.94,286.68 180.72,286.42 181.50,286.16 182.27,285.89 183.05,285.63 183.83,285.37 184.61,285.11 185.39,284.84 186.16,284.58 186.94,284.32 187.72,284.05 188.50,283.79 189.27,283.53 190.05,283.26 190.83,282.99 191.61,282.70 192.39,282.37 193.16,281.98 193.94,281.53 194.72,281.04 195.50,280.54 196.28,280.03 197.05,279.52 197.83,279.01 198.61,278.50 199.39,277.99 200.17,277.48 200.94,276.97 201.72,276.48 202.50,276.04 203.28,275.73 204.05,275.64 204.83,275.80 205.61,276.14 206.39,276.57 207.17,277.04 207.94,277.49 208.72,277.89 209.50,278.19" fill="none" stroke="#e01b1b" stroke-width="2.3" stroke-opacity="1.0" stroke-linejoin="round"/>
<path d="M103.95,223.40H106.30V244.80H103.95M103.95,234.10H106.30" stroke="#666" stroke-width="0.7" fill="none"/><text x="103.25" y="246.71" font-size="5.3" text-anchor="end" fill="#222" stroke="#222" stroke-width="0.15">0</text><text x="103.25" y="236.01" font-size="5.3" text-anchor="end" fill="#222" stroke="#222" stroke-width="0.15">1</text><text x="103.25" y="225.31" font-size="5.3" text-anchor="end" fill="#222" stroke="#222" stroke-width="0.15">2</text><text transform="translate(99.07,234.10) rotate(-90)" font-size="6.36" text-anchor="middle" fill="#222" stroke="#222" stroke-width="0.15">bits</text><text transform="translate(107.24,244.80) scale(0.639,0.698)" font-size="10" fill="#cc2233" fill-opacity="0.85">T</text><text transform="translate(107.37,239.99) scale(0.547,0.775)" font-size="10" fill="#3cb040" fill-opacity="0.85">A</text><text transform="translate(111.64,244.80) scale(0.639,2.683)" font-size="10" fill="#cc2233" fill-opacity="0.85">T</text><text transform="translate(115.91,244.80) scale(0.573,2.644)" font-size="10" fill="#2a2a9a" fill-opacity="0.85">C</text><text transform="translate(120.44,244.80) scale(0.639,0.651)" font-size="10" fill="#cc2233" fill-opacity="0.85">T</text><text transform="translate(120.31,240.31) scale(0.573,0.688)" font-size="10" fill="#2a2a9a" fill-opacity="0.85">C</text><text transform="translate(124.84,244.80) scale(0.639,0.651)" font-size="10" fill="#cc2233" fill-opacity="0.85">T</text><text transform="translate(124.97,240.31) scale(0.547,0.698)" font-size="10" fill="#3cb040" fill-opacity="0.85">A</text><text transform="translate(129.11,244.80) scale(0.573,0.642)" font-size="10" fill="#2a2a9a" fill-opacity="0.85">C</text><text transform="translate(129.37,240.31) scale(0.547,0.698)" font-size="10" fill="#3cb040" fill-opacity="0.85">A</text><text transform="translate(133.52,244.80) scale(0.551,2.599)" font-size="10" fill="#f0b030" fill-opacity="0.85">G</text><text transform="translate(138.17,244.80) scale(0.547,2.636)" font-size="10" fill="#3cb040" fill-opacity="0.85">A</text><path d="M108.10,246.40h1.32M110.52,246.40h1.32M112.94,246.40h1.32M115.36,246.40h1.32M117.78,246.40h1.32M120.20,246.40h1.32M122.62,246.40h1.32M125.04,246.40h1.32M127.46,246.40h1.32M129.88,246.40h1.32M132.30,246.40h1.32M134.72,246.40h1.32M137.14,246.40h1.32M139.56,246.40h1.32M141.98,246.40h1.32M144.40,246.40h1.32M146.82,246.40h1.32" stroke="#555" stroke-width="0.91"/>
<text x="112.2" y="258" class="ins">BCL6</text>
<path d="M52.45,379.80H212.55" stroke="#000" stroke-width="2.9"/><path d="M62.25,375.50L52.45,379.80L62.25,384.10M202.75,375.50L212.55,379.80L202.75,384.10" stroke="#000" stroke-width="2.9" fill="none" stroke-linecap="round" stroke-linejoin="round"/>
<text x="29.5" y="391.7" class="ax">Strong binding</text>
<text x="104.6" y="393.2" class="rd">BCL6 binding</text>
<text x="135.4" y="404.0" class="rd" text-anchor="middle">rank</text>
<text x="179.4" y="391.7" class="ax">Weak binding</text>
<text x="1.2" y="426.8" class="lbl">D</text>
<rect x="64.30" y="438.30" width="158.70" height="135.80" fill="none" stroke="#8c8c8c" stroke-width="0.9"/><path d="M59.80,569.90H64.30M59.80,548.70H64.30M59.80,527.50H64.30M59.80,506.30H64.30M59.80,485.10H64.30M59.80,463.90H64.30M59.80,442.70H64.30M70.50,574.10V578.90M103.00,574.10V578.90M135.50,574.10V578.90M168.00,574.10V578.90M200.50,574.10V578.90" stroke="#8c8c8c" stroke-width="0.9"/><text transform="translate(55.80,569.90) rotate(-90)" font-size="7.0" text-anchor="middle" fill="#222" stroke="#222" stroke-width="0.2">&#8722;150</text><text transform="translate(55.80,548.70) rotate(-90)" font-size="7.0" text-anchor="middle" fill="#222" stroke="#222" stroke-width="0.2">&#8722;100</text><text transform="translate(55.80,527.50) rotate(-90)" font-size="7.0" text-anchor="middle" fill="#222" stroke="#222" stroke-width="0.2">&#8722;50</text><text transform="translate(55.80,506.30) rotate(-90)" font-size="7.0" text-anchor="middle" fill="#222" stroke="#222" stroke-width="0.2">0</text><text transform="translate(55.80,485.10) rotate(-90)" font-size="7.0" text-anchor="middle" fill="#222" stroke="#222" stroke-width="0.2">50</text><text transform="translate(55.80,463.90) rotate(-90)" font-size="7.0" text-anchor="middle" fill="#222" stroke="#222" stroke-width="0.2">100</text><text transform="translate(55.80,442.70) rotate(-90)" font-size="7.0" text-anchor="middle" fill="#222" stroke="#222" stroke-width="0.2">150</text><text x="70.50" y="588.60" font-size="7.0" text-anchor="middle" fill="#222" stroke="#222" stroke-width="0.2">0</text><text x="103.00" y="588.60" font-size="7.0" text-anchor="middle" fill="#222" stroke="#222" stroke-width="0.2">1000</text><text x="135.50" y="588.60" font-size="7.0" text-anchor="middle" fill="#222" stroke="#222" stroke-width="0.2">2000</text><text x="168.00" y="588.60" font-size="7.0" text-anchor="middle" fill="#222" stroke="#222" stroke-width="0.2">3000</text><text x="200.50" y="588.60" font-size="7.0" text-anchor="middle" fill="#222" stroke="#222" stroke-width="0.2">4000</text>
<line x1="64.30" y1="506.30" x2="223.00" y2="506.30" stroke="#8c8c8c" stroke-width="0.9"/>
<text transform="translate(31.0,504) rotate(-90)" class="yl2" text-anchor="middle">Average BCL6 motif</text>
<text transform="translate(44.5,504) rotate(-90)" class="yl2" text-anchor="middle">position wrt TSS (bp)</text>
<polyline points="70.40,544.54 70.90,552.86 71.40,553.15 71.90,540.33 72.40,539.43 72.90,531.48 73.40,536.28 73.90,538.99 74.40,532.05 74.90,519.84 75.40,517.67 75.90,525.88 76.40,523.88 76.90,510.07 77.40,515.41 77.90,524.88 78.40,521.64 78.90,524.91 79.40,521.66 79.90,520.44 80.40,522.05 80.90,511.01 81.40,519.24 81.90,516.86 82.40,503.72 82.90,502.78 83.40,512.22 83.90,511.81 84.40,510.62 84.90,512.72 85.40,517.79 85.90,518.64 86.40,513.53 86.90,515.55 87.40,518.64 87.90,517.98 88.40,518.43 88.90,521.90 89.40,513.34 89.90,522.11 90.40,510.48 90.90,500.93 91.40,515.30 91.90,508.06 92.40,511.40 92.90,508.04 93.40,507.74 93.90,521.10 94.40,514.91 94.90,513.34 95.40,510.35 95.90,511.78 96.40,508.99 96.90,514.48 97.40,508.35 97.90,510.76 98.40,504.06 98.90,502.82 99.40,492.39 99.90,493.37 100.40,493.39 100.90,492.26 101.40,499.32 101.90,498.38 102.40,492.90 102.90,497.28 103.40,500.20 103.90,500.66 104.40,495.03 104.90,499.07 105.40,498.83 105.90,504.28 106.40,504.01 106.90,498.19 107.40,492.63 107.90,494.76 108.40,499.53 108.90,502.90 109.40,495.07 109.90,499.22 110.40,494.68 110.90,501.21 111.40,492.80 111.90,496.68 112.40,499.54 112.90,492.07 113.40,500.41 113.90,499.54 114.40,499.58 114.90,499.49 115.40,493.03 115.90,493.34 116.40,493.16 116.90,500.54 117.40,507.61 117.90,505.19 118.40,509.93 118.90,502.90 119.40,500.52 119.90,508.14 120.40,507.70 120.90,509.54 121.40,503.40 121.90,507.41 122.40,496.93 122.90,493.21 123.40,495.89 123.90,493.55 124.40,486.43 124.90,486.73 125.40,490.77 125.90,487.69 126.40,486.69 126.90,485.58 127.40,485.66 127.90,487.06 128.40,485.33 128.90,480.16 129.40,480.21 129.90,473.59 130.40,464.64 130.90,477.71 131.40,477.06 131.90,473.71 132.40,479.64 132.90,482.50 133.40,486.11 133.90,479.99 134.40,482.36 134.90,479.13 135.40,481.33 135.90,472.21 136.40,472.56 136.90,472.31 137.40,477.18 137.90,468.26 138.40,465.75 138.90,477.49 139.40,471.55 139.90,477.00 140.40,483.02 140.90,475.07 141.40,476.91 141.90,467.45 142.40,472.88 142.90,482.15 143.40,468.06 143.90,469.47 144.40,475.77 144.90,478.06 145.40,478.81 145.90,483.74 146.40,483.83 146.90,487.31 147.40,476.50 147.90,486.59 148.40,483.63 148.90,488.37 149.40,484.90 149.90,490.28 150.40,487.97 150.90,480.58 151.40,473.87 151.90,487.88 152.40,491.32 152.90,484.15 153.40,490.67 153.90,485.28 154.40,495.09 154.90,483.76 155.40,479.81 155.90,481.71 156.40,481.13 156.90,477.46 157.40,491.44 157.90,497.92 158.40,496.17 158.90,485.19 159.40,488.03 159.90,490.23 160.40,490.17 160.90,486.12 161.40,477.55 161.90,488.86 162.40,491.92 162.90,484.78 163.40,492.12 163.90,494.38 164.40,497.03 164.90,492.53 165.40,489.72 165.90,490.35 166.40,492.80 166.90,498.55 167.40,498.09 167.90,483.94 168.40,485.75 168.90,489.69 169.40,496.58 169.90,487.74 170.40,495.30 170.90,498.35 171.40,497.08 171.90,498.55 172.40,490.46 172.90,492.17 173.40,486.36 173.90,492.23 174.40,486.98 174.90,486.69 175.40,479.78 175.90,473.38 176.40,473.13 176.90,479.88 177.40,473.81 177.90,479.94 178.40,484.49 178.90,485.87 179.40,481.54 179.90,490.29 180.40,478.88 180.90,483.48 181.40,469.54 181.90,473.87 182.40,478.09 182.90,477.67 183.40,490.44 183.90,492.15 184.40,481.47 184.90,492.19 185.40,500.87 185.90,490.27 186.40,489.94 186.90,491.87 187.40,490.86 187.90,489.03 188.40,483.78 188.90,483.12 189.40,484.72 189.90,495.70 190.40,494.00 190.90,483.63 191.40,487.17 191.90,487.78 192.40,497.27 192.90,504.38 193.40,499.49 193.90,497.12 194.40,499.36 194.90,504.45 195.40,514.66 195.90,505.45 196.40,503.48 196.90,501.71 197.40,506.31 197.90,504.32 198.40,505.07 198.90,494.07 199.40,490.03 199.90,493.46 200.40,490.64 200.90,495.82 201.40,499.47 201.90,503.84 202.40,499.87 202.90,494.77 203.40,496.74 203.90,500.33 204.40,515.01 204.90,493.75 205.40,495.89 205.90,494.16 206.40,501.62 206.90,494.16 207.40,491.20 207.90,494.79 208.40,497.60 208.90,497.10 209.40,498.05 209.90,495.37 210.40,508.95 210.90,497.12 211.40,501.02 211.90,503.14 212.40,507.37 212.90,509.49 213.40,509.57 213.90,509.75 214.40,506.84 214.90,510.71 215.40,511.59 215.90,507.28 216.40,508.37 216.90,511.22 217.40,519.02 217.90,510.98" fill="none" stroke="#000" stroke-width="1.05" stroke-opacity="0.92" stroke-linejoin="round"/>
<polyline points="70.40,546.75 71.02,545.21 71.63,543.21 72.25,540.83 72.87,538.19 73.48,535.37 74.10,532.44 74.72,529.48 75.33,526.57 75.95,523.77 76.57,521.15 77.18,518.73 77.80,516.59 78.42,514.73 79.03,513.17 79.65,511.89 80.27,510.87 80.88,510.09 81.50,509.51 82.12,509.13 82.73,508.92 83.35,508.85 83.97,508.91 84.58,509.03 85.20,509.19 85.82,509.35 86.44,509.51 87.05,509.65 87.67,509.74 88.29,509.77 88.90,509.70 89.52,509.54 90.14,509.30 90.75,509.01 91.37,508.68 91.99,508.31 92.60,507.91 93.22,507.49 93.84,507.05 94.45,506.60 95.07,506.16 95.69,505.72 96.30,505.30 96.92,504.88 97.54,504.48 98.15,504.09 98.77,503.71 99.39,503.34 100.00,502.98 100.62,502.65 101.24,502.33 101.85,502.01 102.47,501.66 103.09,501.25 103.70,500.74 104.32,500.08 104.94,499.28 105.55,498.38 106.17,497.42 106.79,496.43 107.40,495.44 108.02,494.47 108.64,493.52 109.25,492.60 109.87,491.74 110.49,491.01 111.10,490.49 111.72,490.29 112.34,490.45 112.95,490.94 113.57,491.68 114.19,492.61 114.81,493.68 115.42,494.86 116.04,496.10 116.66,497.33 117.27,498.49 117.89,499.51 118.51,500.33 119.12,500.96 119.74,501.37 120.36,501.52 120.97,501.35 121.59,500.85 122.21,500.02 122.82,498.91 123.44,497.55 124.06,495.95 124.67,494.12 125.29,492.11 125.91,490.01 126.52,487.90 127.14,485.86 127.76,483.92 128.37,482.11 128.99,480.48 129.61,479.11 130.22,478.10 130.84,477.48 131.46,477.19 132.07,477.14 132.69,477.23 133.31,477.38 133.92,477.58 134.54,477.82 135.16,478.09 135.77,478.38 136.39,478.69 137.01,478.99 137.62,479.29 138.24,479.56 138.86,479.80 139.47,480.00 140.09,480.16 140.71,480.29 141.32,480.40 141.94,480.51 142.56,480.63 143.17,480.75 143.79,480.90 144.41,481.06 145.03,481.25 145.64,481.45 146.26,481.66 146.88,481.88 147.49,482.09 148.11,482.31 148.73,482.54 149.34,482.76 149.96,483.00 150.58,483.25 151.19,483.50 151.81,483.76 152.43,484.03 153.04,484.29 153.66,484.56 154.28,484.84 154.89,485.14 155.51,485.50 156.13,485.94 156.74,486.47 157.36,487.09 157.98,487.79 158.59,488.52 159.21,489.27 159.83,490.04 160.44,490.83 161.06,491.65 161.68,492.49 162.29,493.35 162.91,494.22 163.53,495.06 164.14,495.82 164.76,496.39 165.38,496.71 165.99,496.69 166.61,496.39 167.23,495.86 167.84,495.21 168.46,494.51 169.08,493.76 169.69,492.99 170.31,492.17 170.93,491.33 171.54,490.45 172.16,489.57 172.78,488.69 173.39,487.85 174.01,487.10 174.63,486.49 175.25,486.04 175.86,485.74 176.48,485.56 177.10,485.45 177.71,485.36 178.33,485.29 178.95,485.22 179.56,485.14 180.18,485.06 180.80,484.97 181.41,484.88 182.03,484.79 182.65,484.70 183.26,484.61 183.88,484.55 184.50,484.54 185.11,484.62 185.73,484.82 186.35,485.15 186.96,485.59 187.58,486.12 188.20,486.76 188.81,487.54 189.43,488.46 190.05,489.53 190.66,490.70 191.28,491.94 191.90,493.21 192.51,494.50 193.13,495.80 193.75,497.10 194.36,498.38 194.98,499.56 195.60,500.59 196.21,501.35 196.83,501.81 197.45,502.00 198.06,501.99 198.68,501.87 199.30,501.69 199.91,501.48 200.53,501.22 201.15,500.90 201.76,500.52 202.38,500.10 203.00,499.65 203.62,499.18 204.23,498.71 204.85,498.25 205.47,497.83 206.08,497.50 206.70,497.31 207.32,497.31 207.93,497.49 208.55,497.82 209.17,498.23 209.78,498.69 210.40,499.19 211.02,499.75 211.63,500.39 212.25,501.14 212.87,502.01 213.48,502.97 214.10,503.99 214.72,505.03 215.33,506.08 215.95,507.09 216.57,508.04 217.18,508.87 217.80,509.50" fill="none" stroke="#e01b1b" stroke-width="2.3" stroke-opacity="1.0" stroke-linejoin="round"/>
<path d="M72.65,442.60H75.00V464.00H72.65M72.65,453.30H75.00" stroke="#666" stroke-width="0.7" fill="none"/><text x="71.95" y="465.91" font-size="5.3" text-anchor="end" fill="#222" stroke="#222" stroke-width="0.15">0</text><text x="71.95" y="455.21" font-size="5.3" text-anchor="end" fill="#222" stroke="#222" stroke-width="0.15">1</text><text x="71.95" y="444.51" font-size="5.3" text-anchor="end" fill="#222" stroke="#222" stroke-width="0.15">2</text><text transform="translate(67.77,453.30) rotate(-90)" font-size="6.36" text-anchor="middle" fill="#222" stroke="#222" stroke-width="0.15">bits</text><text transform="translate(76.24,464.00) scale(0.646,0.698)" font-size="10" fill="#cc2233" fill-opacity="0.85">T</text><text transform="translate(76.37,459.19) scale(0.553,0.775)" font-size="10" fill="#3cb040" fill-opacity="0.85">A</text><text transform="translate(80.69,464.00) scale(0.646,2.683)" font-size="10" fill="#cc2233" fill-opacity="0.85">T</text><text transform="translate(85.01,464.00) scale(0.579,2.644)" font-size="10" fill="#2a2a9a" fill-opacity="0.85">C</text><text transform="translate(89.59,464.00) scale(0.646,0.651)" font-size="10" fill="#cc2233" fill-opacity="0.85">T</text><text transform="translate(89.46,459.51) scale(0.579,0.688)" font-size="10" fill="#2a2a9a" fill-opacity="0.85">C</text><text transform="translate(94.04,464.00) scale(0.646,0.651)" font-size="10" fill="#cc2233" fill-opacity="0.85">T</text><text transform="translate(94.17,459.51) scale(0.553,0.698)" font-size="10" fill="#3cb040" fill-opacity="0.85">A</text><text transform="translate(98.36,464.00) scale(0.579,0.642)" font-size="10" fill="#2a2a9a" fill-opacity="0.85">C</text><text transform="translate(98.62,459.51) scale(0.553,0.698)" font-size="10" fill="#3cb040" fill-opacity="0.85">A</text><text transform="translate(102.82,464.00) scale(0.557,2.599)" font-size="10" fill="#f0b030" fill-opacity="0.85">G</text><text transform="translate(107.52,464.00) scale(0.553,2.636)" font-size="10" fill="#3cb040" fill-opacity="0.85">A</text><path d="M76.80,465.60h1.33M79.25,465.60h1.33M81.70,465.60h1.33M84.14,465.60h1.33M86.59,465.60h1.33M89.04,465.60h1.33M91.49,465.60h1.33M93.93,465.60h1.33M96.38,465.60h1.33M98.83,465.60h1.33M101.28,465.60h1.33M103.72,465.60h1.33M106.17,465.60h1.33M108.62,465.60h1.33M111.07,465.60h1.33M113.51,465.60h1.33M115.96,465.60h1.33" stroke="#555" stroke-width="0.91"/>
<text x="82.2" y="476.6" class="ins">BCL6</text>
<path d="M64.55,595.00H224.55" stroke="#000" stroke-width="2.9"/><path d="M74.35,590.70L64.55,595.00L74.35,599.30M214.75,590.70L224.55,595.00L214.75,599.30" stroke="#000" stroke-width="2.9" fill="none" stroke-linecap="round" stroke-linejoin="round"/>
<text x="42" y="607" class="ax">Strong binding</text>
<text x="116.7" y="609.0" class="rd">BCL6 binding</text>
<text x="147.8" y="619.6" class="rd" text-anchor="middle">rank</text>
<text x="191.8" y="606.3" class="ax">Weak binding</text>
<text x="269.0" y="426.8" class="lbl">E</text>
<rect x="314.60" y="437.20" width="168.10" height="140.80" fill="none" stroke="#8c8c8c" stroke-width="0.9"/><path d="M310.10,573.00H314.60M310.10,554.25H314.60M310.10,535.50H314.60M310.10,516.75H314.60M310.10,498.00H314.60M310.10,479.25H314.60M310.10,460.50H314.60M310.10,441.75H314.60M321.10,578.00V582.80M353.45,578.00V582.80M385.80,578.00V582.80M418.15,578.00V582.80M450.50,578.00V582.80" stroke="#8c8c8c" stroke-width="0.9"/><text transform="translate(303.80,573.00) rotate(-90)" font-size="7.7" text-anchor="middle" fill="#222" stroke="#222" stroke-width="0.2">0.00</text><text transform="translate(303.80,535.50) rotate(-90)" font-size="7.7" text-anchor="middle" fill="#222" stroke="#222" stroke-width="0.2">0.10</text><text transform="translate(303.80,498.00) rotate(-90)" font-size="7.7" text-anchor="middle" fill="#222" stroke="#222" stroke-width="0.2">0.20</text><text transform="translate(303.80,460.50) rotate(-90)" font-size="7.7" text-anchor="middle" fill="#222" stroke="#222" stroke-width="0.2">0.30</text><text x="321.10" y="594.80" font-size="7.7" text-anchor="middle" fill="#222" stroke="#222" stroke-width="0.2">0</text><text x="353.45" y="594.80" font-size="7.7" text-anchor="middle" fill="#222" stroke="#222" stroke-width="0.2">5000</text><text x="385.80" y="594.80" font-size="7.7" text-anchor="middle" fill="#222" stroke="#222" stroke-width="0.2">10000</text><text x="418.15" y="594.80" font-size="7.7" text-anchor="middle" fill="#222" stroke="#222" stroke-width="0.2">15000</text><text x="450.50" y="594.80" font-size="7.7" text-anchor="middle" fill="#222" stroke="#222" stroke-width="0.2">20000</text>
<text transform="translate(278.3,510.5) rotate(-90)" class="yl2" text-anchor="middle">Fraction of loci with</text>
<text transform="translate(292,510.5) rotate(-90)" class="yl2" text-anchor="middle">BCL6 and STAT3 motifs</text>
<polyline points="320.80,485.24 321.30,512.15 321.80,462.88 322.30,498.67 322.80,484.55 323.30,481.37 323.80,482.03 324.30,496.11 324.80,469.46 325.30,460.90 325.80,468.10 326.30,502.74 326.80,488.76 327.30,506.11 327.80,497.27 328.30,514.20 328.80,490.53 329.30,511.40 329.80,505.65 330.30,521.72 330.80,493.32 331.30,538.03 331.80,504.39 332.30,524.75 332.80,547.51 333.30,528.92 333.80,506.49 334.30,537.17 334.80,488.58 335.30,518.83 335.80,501.94 336.30,515.62 336.80,506.87 337.30,514.69 337.80,509.39 338.30,529.08 338.80,514.67 339.30,543.57 339.80,522.95 340.30,541.40 340.80,522.00 341.30,524.57 341.80,509.35 342.30,506.47 342.80,518.49 343.30,544.94 343.80,499.62 344.30,533.97 344.80,522.62 345.30,544.64 345.80,487.62 346.30,546.64 346.80,543.84 347.30,540.57 347.80,549.75 348.30,556.03 348.80,524.28 349.30,545.16 349.80,504.55 350.30,541.89 350.80,532.45 351.30,549.42 351.80,530.00 352.30,538.46" fill="none" stroke="#000" stroke-width="1.0" stroke-opacity="0.95" stroke-linejoin="round"/>
<polyline points="352.30,538.46 352.80,532.60 353.30,552.42 353.80,529.04 354.30,541.51 354.80,531.81 355.30,548.63 355.80,522.48 356.30,550.68 356.80,539.05 357.30,551.86 357.80,521.41 358.30,569.52 358.80,516.87 359.30,556.69 359.80,536.20 360.30,545.55 360.80,527.39 361.30,562.34 361.80,523.38 362.30,552.55 362.80,522.95 363.30,567.10 363.80,539.71 364.30,562.98 364.80,537.61 365.30,565.78 365.80,572.25 366.30,569.33 366.80,535.77 367.30,554.73 367.80,519.82 368.30,551.12 368.80,533.66 369.30,549.80 369.80,545.80 370.30,548.99 370.80,534.90 371.30,551.86 371.80,542.20 372.30,548.50 372.80,541.30 373.30,564.27 373.80,540.47 374.30,563.62 374.80,545.60 375.30,566.90 375.80,528.51 376.30,555.90 376.80,517.30 377.30,550.57 377.80,543.03 378.30,567.97 378.80,514.54 379.30,572.25 379.80,538.72 380.30,559.06 380.80,542.73 381.30,561.75 381.80,548.12 382.30,556.49 382.80,549.81 383.30,565.88 383.80,552.74 384.30,564.26 384.80,547.76 385.30,557.67 385.80,572.25 386.30,571.43 386.80,543.82 387.30,561.51 387.80,547.12 388.30,561.20 388.80,538.11 389.30,564.65 389.80,542.50 390.30,556.59 390.80,546.89 391.30,564.17 391.80,549.83 392.30,542.46 392.80,549.52 393.30,554.96 393.80,553.31 394.30,560.35 394.80,535.20 395.30,557.72 395.80,554.77 396.30,570.37 396.80,551.96 397.30,566.11 397.80,567.52 398.30,572.25 398.80,552.25 399.30,572.25 399.80,539.50 400.30,570.04 400.80,556.71 401.30,565.73 401.80,554.80 402.30,550.61 402.80,562.29 403.30,558.07 403.80,544.99 404.30,561.34 404.80,551.99 405.30,560.54 405.80,554.37 406.30,565.91 406.80,550.62 407.30,561.97 407.80,555.18 408.30,559.18 408.80,550.22 409.30,559.86 409.80,563.69 410.30,562.50 410.80,558.00 411.30,564.97 411.80,535.37 412.30,568.82 412.80,551.42 413.30,567.38 413.80,557.21 414.30,565.75 414.80,556.65 415.30,566.21 415.80,549.53 416.30,569.65 416.80,547.55 417.30,559.88 417.80,549.27 418.30,560.68 418.80,545.80 419.30,572.25 419.80,534.55 420.30,566.24 420.80,555.55 421.30,572.25 421.80,557.75 422.30,571.88 422.80,556.01 423.30,563.36 423.80,551.28 424.30,562.07 424.80,556.96 425.30,561.53 425.80,567.16 426.30,543.84 426.80,552.34 427.30,565.50 427.80,549.38 428.30,563.78 428.80,572.25 429.30,570.41 429.80,554.68 430.30,567.41 430.80,555.27 431.30,560.98 431.80,558.75 432.30,572.25 432.80,561.79 433.30,571.19 433.80,553.10 434.30,572.25 434.80,545.42 435.30,570.27 435.80,551.98 436.30,572.25 436.80,560.07 437.30,571.98 437.80,557.36 438.30,572.25 438.80,558.49 439.30,564.89 439.80,555.96 440.30,563.38 440.80,554.72 441.30,569.70 441.80,535.32 442.30,562.70 442.80,558.33 443.30,564.26 443.80,551.20 444.30,572.25 444.80,565.13 445.30,554.07 445.80,551.88 446.30,568.55 446.80,551.00 447.30,565.07 447.80,553.94 448.30,572.25 448.80,553.32 449.30,567.52 449.80,554.98 450.30,539.40 450.80,564.37 451.30,566.33 451.80,534.27 452.30,572.25 452.80,555.00 453.30,559.34 453.80,548.28 454.30,572.25 454.80,562.75 455.30,571.48 455.80,553.07 456.30,563.14 456.80,540.75 457.30,565.61 457.80,555.58 458.30,564.79 458.80,556.32 459.30,557.41 459.80,562.91 460.30,560.15 460.80,538.47 461.30,559.59 461.80,561.22 462.30,563.94 462.80,548.50 463.30,565.88 463.80,544.34 464.30,562.00 464.80,555.89 465.30,555.44 465.80,554.27 466.30,561.79 466.80,552.92 467.30,562.18 467.80,545.12 468.30,572.25 468.80,565.63 469.30,546.12 469.80,558.84 470.30,565.19 470.80,560.22 471.30,551.57 471.80,558.73 472.30,572.25 472.80,551.46 473.30,566.55 473.80,560.92 474.30,562.29 474.80,547.88 475.30,572.25 475.80,560.44 476.30,564.99 476.80,549.95" fill="none" stroke="#111" stroke-width="0.7" stroke-opacity="0.85" stroke-linejoin="round"/>
<polyline points="320.80,485.94 321.50,487.25 322.21,488.97 322.91,490.95 323.62,493.03 324.32,495.15 325.03,497.27 325.73,499.36 326.44,501.37 327.14,503.24 327.85,504.91 328.55,506.38 329.25,507.70 329.96,508.94 330.66,510.15 331.37,511.36 332.07,512.56 332.78,513.77 333.48,514.98 334.19,516.20 334.89,517.45 335.60,518.74 336.30,520.07 337.01,521.43 337.71,522.81 338.41,524.19 339.12,525.56 339.82,526.87 340.53,528.07 341.23,529.09 341.94,529.91 342.64,530.59 343.35,531.17 344.05,531.71 344.76,532.24 345.46,532.77 346.16,533.30 346.87,533.83 347.57,534.36 348.28,534.89 348.98,535.43 349.69,535.98 350.39,536.55 351.10,537.14 351.80,537.74 352.51,538.36 353.21,538.97 353.91,539.59 354.62,540.20 355.32,540.82 356.03,541.44 356.73,542.05 357.44,542.64 358.14,543.18 358.85,543.63 359.55,543.97 360.26,544.19 360.96,544.33 361.66,544.44 362.37,544.53 363.07,544.62 363.78,544.70 364.48,544.79 365.19,544.88 365.89,544.97 366.60,545.07 367.30,545.20 368.01,545.37 368.71,545.61 369.42,545.89 370.12,546.22 370.82,546.56 371.53,546.91 372.23,547.27 372.94,547.62 373.64,547.97 374.35,548.32 375.05,548.68 375.76,549.03 376.46,549.38 377.17,549.73 377.87,550.08 378.57,550.44 379.28,550.79 379.98,551.14 380.69,551.49 381.39,551.85 382.10,552.20 382.80,552.55 383.51,552.90 384.21,553.25 384.92,553.59 385.62,553.90 386.32,554.17 387.03,554.41 387.73,554.61 388.44,554.80 389.14,554.98 389.85,555.15 390.55,555.33 391.26,555.50 391.96,555.68 392.67,555.85 393.37,556.04 394.07,556.27 394.78,556.57 395.48,556.99 396.19,557.53 396.89,558.16 397.60,558.83 398.30,559.47 399.01,560.00 399.71,560.35 400.42,560.47 401.12,560.41 401.83,560.24 402.53,560.02 403.23,559.78 403.94,559.54 404.64,559.30 405.35,559.05 406.05,558.81 406.76,558.57 407.46,558.34 408.17,558.14 408.87,558.00 409.58,557.96 410.28,558.02 410.98,558.18 411.69,558.39 412.39,558.62 413.10,558.86 413.80,559.11 414.51,559.35 415.21,559.59 415.92,559.83 416.62,560.07 417.33,560.31 418.03,560.52 418.73,560.68 419.44,560.77 420.14,560.79 420.85,560.74 421.55,560.65 422.26,560.55 422.96,560.44 423.67,560.34 424.37,560.23 425.08,560.12 425.78,560.02 426.48,559.91 427.19,559.81 427.89,559.71 428.60,559.64 429.30,559.59 430.01,559.57 430.71,559.57 431.42,559.59 432.12,559.61 432.83,559.64 433.53,559.67 434.24,559.69 434.94,559.72 435.64,559.75 436.35,559.77 437.05,559.80 437.76,559.83 438.46,559.87 439.17,559.92 439.87,559.99 440.58,560.06 441.28,560.14 441.99,560.21 442.69,560.29 443.39,560.37 444.10,560.45 444.80,560.53 445.51,560.61 446.21,560.69 446.92,560.76 447.62,560.81 448.33,560.82 449.03,560.76 449.74,560.63 450.44,560.44 451.14,560.22 451.85,559.98 452.55,559.74 453.26,559.50 453.96,559.26 454.67,559.01 455.37,558.77 456.08,558.53 456.78,558.30 457.49,558.09 458.19,557.93 458.89,557.84 459.60,557.83 460.30,557.87 461.01,557.95 461.71,558.04 462.42,558.14 463.12,558.23 463.83,558.33 464.53,558.43 465.24,558.55 465.94,558.71 466.65,558.93 467.35,559.25 468.05,559.66 468.76,560.13 469.46,560.63 470.17,561.14 470.87,561.66 471.58,562.17 472.28,562.69 472.99,563.19 473.69,563.67 474.40,564.08 475.10,564.40" fill="none" stroke="#e01b1b" stroke-width="2.3" stroke-opacity="1.0" stroke-linejoin="round"/>
<path d="M344.31,441.20H346.60V462.00H344.31M344.31,451.60H346.60" stroke="#666" stroke-width="0.7" fill="none"/><text x="343.61" y="463.91" font-size="5.3" text-anchor="end" fill="#222" stroke="#222" stroke-width="0.15">0</text><text x="343.61" y="453.51" font-size="5.3" text-anchor="end" fill="#222" stroke="#222" stroke-width="0.15">1</text><text x="343.61" y="443.11" font-size="5.3" text-anchor="end" fill="#222" stroke="#222" stroke-width="0.15">2</text><text transform="translate(339.43,451.60) rotate(-90)" font-size="6.36" text-anchor="middle" fill="#222" stroke="#222" stroke-width="0.15">bits</text><text transform="translate(349.87,462.00) scale(0.740,0.678)" font-size="10" fill="#cc2233" fill-opacity="0.85">T</text><text transform="translate(350.03,457.32) scale(0.634,0.754)" font-size="10" fill="#3cb040" fill-opacity="0.85">A</text><text transform="translate(354.97,462.00) scale(0.740,2.608)" font-size="10" fill="#cc2233" fill-opacity="0.85">T</text><text transform="translate(359.93,462.00) scale(0.664,2.570)" font-size="10" fill="#2a2a9a" fill-opacity="0.85">C</text><text transform="translate(365.17,462.00) scale(0.740,0.633)" font-size="10" fill="#cc2233" fill-opacity="0.85">T</text><text transform="translate(365.03,457.63) scale(0.664,0.669)" font-size="10" fill="#2a2a9a" fill-opacity="0.85">C</text><text transform="translate(370.27,462.00) scale(0.740,0.633)" font-size="10" fill="#cc2233" fill-opacity="0.85">T</text><text transform="translate(370.43,457.63) scale(0.634,0.678)" font-size="10" fill="#3cb040" fill-opacity="0.85">A</text><text transform="translate(375.23,462.00) scale(0.664,0.624)" font-size="10" fill="#2a2a9a" fill-opacity="0.85">C</text><text transform="translate(375.53,457.63) scale(0.634,0.678)" font-size="10" fill="#3cb040" fill-opacity="0.85">A</text><text transform="translate(380.34,462.00) scale(0.638,2.526)" font-size="10" fill="#f0b030" fill-opacity="0.85">G</text><text transform="translate(385.73,462.00) scale(0.634,2.562)" font-size="10" fill="#3cb040" fill-opacity="0.85">A</text><path d="M348.40,463.60h1.53M351.21,463.60h1.53M354.01,463.60h1.53M356.82,463.60h1.53M359.62,463.60h1.53M362.43,463.60h1.53M365.23,463.60h1.53M368.04,463.60h1.53M370.84,463.60h1.53M373.65,463.60h1.53M376.45,463.60h1.53M379.26,463.60h1.53M382.06,463.60h1.53M384.87,463.60h1.53M387.67,463.60h1.53M390.48,463.60h1.53" stroke="#555" stroke-width="0.91"/>
<text x="359.8" y="476.5" class="ins">BCL6</text>
<path d="M400.9,450v9M396.4,454.5h9" stroke="#000" stroke-width="2.4"/>
<path d="M421.11,441.70H423.40V462.50H421.11M421.11,452.10H423.40" stroke="#666" stroke-width="0.7" fill="none"/><text x="420.41" y="464.41" font-size="5.3" text-anchor="end" fill="#222" stroke="#222" stroke-width="0.15">0</text><text x="420.41" y="454.01" font-size="5.3" text-anchor="end" fill="#222" stroke="#222" stroke-width="0.15">1</text><text x="420.41" y="443.61" font-size="5.3" text-anchor="end" fill="#222" stroke="#222" stroke-width="0.15">2</text><text transform="translate(416.23,452.10) rotate(-90)" font-size="6.36" text-anchor="middle" fill="#222" stroke="#222" stroke-width="0.15">bits</text><text transform="translate(427.99,462.50) scale(0.572,2.638)" font-size="10" fill="#3cb040" fill-opacity="0.85">A</text><text transform="translate(432.45,462.50) scale(0.668,0.678)" font-size="10" fill="#cc2233" fill-opacity="0.85">T</text><text transform="translate(432.31,457.82) scale(0.599,0.817)" font-size="10" fill="#2a2a9a" fill-opacity="0.85">C</text><text transform="translate(437.05,462.50) scale(0.668,2.713)" font-size="10" fill="#cc2233" fill-opacity="0.85">T</text><text transform="translate(441.65,462.50) scale(0.668,2.713)" font-size="10" fill="#cc2233" fill-opacity="0.85">T</text><text transform="translate(446.13,462.50) scale(0.576,0.446)" font-size="10" fill="#f0b030" fill-opacity="0.85">G</text><text transform="translate(446.11,459.38) scale(0.599,0.743)" font-size="10" fill="#2a2a9a" fill-opacity="0.85">C</text><text transform="translate(450.71,462.50) scale(0.599,2.526)" font-size="10" fill="#2a2a9a" fill-opacity="0.85">C</text><text transform="translate(455.33,462.50) scale(0.576,2.526)" font-size="10" fill="#f0b030" fill-opacity="0.85">G</text><path d="M425.20,464.10h1.38M427.73,464.10h1.38M430.26,464.10h1.38M432.79,464.10h1.38M435.32,464.10h1.38M437.85,464.10h1.38M440.38,464.10h1.38M442.91,464.10h1.38M445.44,464.10h1.38M447.97,464.10h1.38M450.50,464.10h1.38M453.03,464.10h1.38M455.56,464.10h1.38M458.09,464.10h1.38M460.62,464.10h1.38" stroke="#555" stroke-width="0.91"/>
<text x="426.9" y="478" class="ins">STAT3</text>
<path d="M322.05,598.80H482.05" stroke="#000" stroke-width="2.9"/><path d="M331.85,594.50L322.05,598.80L331.85,603.10M472.25,594.50L482.05,598.80L472.25,603.10" stroke="#000" stroke-width="2.9" fill="none" stroke-linecap="round" stroke-linejoin="round"/>
<text x="298.7" y="610.6" class="ax">Strong binding</text>
<text x="374.1" y="611.5" class="rd">BCL6 binding</text>
<text x="404.6" y="622.6" class="rd" text-anchor="middle">rank</text>
<text x="448.9" y="610.8" class="ax">Weak binding</text>
</svg></body></html>
